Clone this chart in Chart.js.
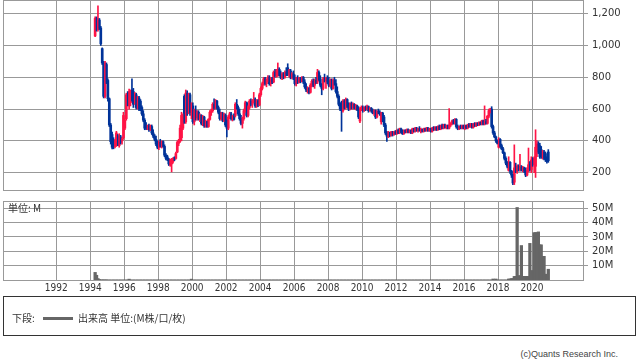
<!DOCTYPE html>
<html>
<head>
<meta charset="utf-8">
<script src="https://cdn.jsdelivr.net/npm/chart.js@4.4.0/dist/chart.umd.min.js"></script>
<style>
  body { margin: 0; background: #fff; width: 638px; height: 362px; position: relative; overflow: hidden;
         font-family: "Noto Sans CJK JP", "DejaVu Sans", sans-serif; color: #333; }
  canvas { position: absolute; left: 0; }
  #price { top: 0; }
  #volume { top: 194px; }
  #unit { position: absolute; left: 8px; top: 202px; font-size: 10px; line-height: 12px; }
  #legend { position: absolute; left: 3px; top: 296px; width: 631px; height: 38px; border: 1px solid #333; font-size: 10px; }
  #legend span { position: absolute; top: 15px; line-height: 12px; }
  #legend .swatch { left: 39px; top: 20px; width: 30px; height: 3px; background: #666; }
  #copy { position: absolute; right: 20px; top: 349px; font-size: 9px; font-family: "Liberation Sans", sans-serif; color: #444; }
</style>
</head>
<body>
<canvas id="price" width="638" height="192"></canvas>
<canvas id="volume" width="638" height="104"></canvas>
<div id="unit">単位: M</div>
<div id="legend">
  <span style="left:8px">下段:</span>
  <span class="swatch"></span>
  <span style="left:74px">出来高 単位:(M株/口/枚)</span>
</div>
<div id="copy">(c)Quants Research Inc.</div>

<script>
// monthly candles, first one is April 1994
const firstYear = 1994;
const firstMonth = 4;

const opens = [
  1060,1170,1100,1160,1110,980,890,680,880,
  780,665,500,440,400,365,375,430,370,425,400,420,
  480,540,690,620,640,720,710,640,690,610,670,650,
  610,570,530,490,480,495,470,490,450,430,410,380,
  360,390,370,395,365,310,300,285,250,255,270,295,
  290,330,385,400,420,480,680,520,700,580,690,580,
  620,520,590,545,580,540,560,510,550,495,520,490,
  535,580,590,630,610,650,610,580,540,570,530,560,
  520,480,550,570,540,555,560,630,610,570,540,510,
  540,590,640,560,610,650,630,650,660,620,650,625,
  690,730,760,790,760,780,800,760,790,770,830,810,
  810,850,820,800,820,800,830,860,820,840,800,820,
  800,760,790,770,795,775,800,770,740,720,730,705,
  750,775,750,780,770,830,790,750,730,790,780,795,
  770,750,780,730,780,760,710,680,630,640,590,650,
  610,660,620,600,635,610,630,605,620,595,525,600,
  610,590,610,600,615,590,605,590,575,590,550,585,
  580,520,575,550,500,450,430,450,435,455,440,455,
  445,465,450,475,455,445,465,455,470,455,465,450,
  475,460,480,465,475,465,470,460,475,465,480,465,
  475,460,480,470,485,470,490,475,495,480,500,485,
  495,480,500,510,525,510,535,490,480,490,480,495,
  480,495,480,500,490,505,485,505,495,510,500,515,
  505,525,505,520,510,555,585,600,490,450,425,400,
  360,410,370,350,325,290,260,215,265,210,185,140,
  230,210,240,220,235,215,230,210,185,215,250,220,
  280,250,240,360,380,370,345,300,330,320,285,330
];
const highs = [
  1180,1180,1250,1170,1120,985,900,900,890,
  790,670,510,455,420,410,460,440,445,435,420,580,
  540,700,710,725,720,790,730,705,700,680,680,660,
  620,590,540,515,500,505,500,500,470,440,430,400,
  400,410,400,400,375,320,310,290,285,290,295,300,
  330,400,410,500,580,570,690,720,715,700,700,640,
  640,600,620,590,590,570,565,560,555,530,525,540,
  590,600,640,665,660,655,620,600,580,580,575,570,
  530,560,580,580,560,570,640,660,620,600,560,550,
  600,650,645,620,660,665,660,705,670,660,660,700,
  740,770,800,800,790,810,810,800,800,840,850,850,
  890,860,840,830,830,840,860,885,850,850,830,840,
  815,800,810,800,800,805,805,785,760,740,735,760,
  785,790,790,800,850,840,810,760,800,820,800,810,
  800,790,790,790,800,785,740,690,640,650,660,660,
  670,665,640,640,645,640,635,630,625,615,610,620,
  620,615,620,625,620,610,610,600,595,595,590,600,
  590,580,580,560,510,460,460,455,460,460,460,465,
  470,475,480,480,470,470,470,475,475,470,470,480,
  480,485,485,480,490,480,475,480,480,485,485,480,
  480,485,490,490,490,495,500,500,505,505,505,500,
  500,603,515,530,535,540,540,500,495,500,500,500,
  500,500,505,510,510,510,510,515,515,515,520,520,
  530,530,620,535,560,600,605,615,500,460,430,405,
  420,415,380,360,330,300,270,300,270,215,190,375,
  260,250,250,315,245,240,235,230,230,355,270,300,
  295,300,470,400,395,385,365,340,340,330,300,345
];
const lows = [
  1055,1090,1090,1100,1000,880,670,670,760,
  650,490,380,350,350,355,365,370,360,380,380,410,
  470,530,620,600,620,650,610,630,600,600,590,590,
  560,520,470,470,470,460,465,440,420,400,370,350,
  345,360,355,360,300,280,275,245,240,205,260,275,
  285,325,370,390,400,470,510,510,560,570,560,540,
  510,500,530,530,530,520,500,495,485,485,485,485,
  530,560,580,600,600,600,570,530,530,520,520,490,
  425,470,540,530,525,530,550,600,560,530,500,480,
  530,580,550,550,600,620,610,640,610,610,615,620,
  680,720,750,750,740,770,750,745,760,765,800,800,
  805,810,790,785,790,795,810,810,800,790,790,785,
  750,745,760,765,765,770,760,730,710,700,695,700,
  740,740,730,760,760,780,740,690,720,770,730,760,
  740,740,720,725,750,700,670,620,590,460,580,600,
  600,610,590,595,600,600,600,595,590,540,515,590,
  580,585,590,595,580,585,580,570,560,540,545,570,
  560,505,520,490,440,397,420,425,430,430,435,440,
  440,445,445,450,440,440,450,450,450,450,445,445,
  455,455,460,455,460,450,455,455,460,460,460,460,
  455,455,465,465,465,465,470,470,475,475,480,475,
  475,475,490,500,505,505,480,470,470,475,475,475,
  470,475,475,485,485,480,480,490,490,495,495,500,
  500,500,500,505,505,545,575,480,440,420,390,380,
  355,360,345,320,280,250,230,210,195,170,125,125,
  200,195,210,210,210,205,200,175,180,205,210,200,
  240,200,170,300,320,290,290,285,280,270,260,265
];
const closes = [
  1170,1100,1160,1110,1010,890,680,890,770,
  665,500,395,360,370,400,450,380,430,390,410,560,
  530,690,640,710,700,660,630,695,610,670,600,600,
  570,530,480,480,495,470,490,450,430,410,380,360,
  390,370,395,365,310,290,285,255,275,280,290,285,
  320,390,400,480,560,550,520,700,580,690,580,620,
  520,590,545,580,540,560,510,550,495,520,490,535,
  580,590,630,610,650,610,580,540,570,530,560,500,
  480,550,570,540,555,535,630,610,570,540,510,540,
  590,640,560,610,650,630,650,660,620,650,625,690,
  730,760,790,760,780,800,760,790,770,830,810,845,
  850,820,800,820,800,830,820,820,840,800,820,800,
  760,790,770,795,775,800,770,740,720,730,705,750,
  775,750,780,770,830,790,750,730,790,780,795,770,
  750,780,730,780,760,710,680,630,600,590,650,610,
  660,620,600,635,610,630,605,620,595,550,600,610,
  590,610,600,615,590,605,590,575,590,550,585,580,
  570,575,530,500,450,430,450,435,455,440,455,445,
  465,450,475,455,445,465,455,470,455,465,450,475,
  460,480,465,475,465,470,460,475,465,480,465,475,
  460,480,470,485,470,490,475,495,480,500,485,495,
  480,500,510,525,510,535,490,480,490,480,495,480,
  495,480,500,490,505,485,505,495,510,500,515,505,
  525,505,520,510,555,590,600,490,450,425,400,385,
  410,370,350,325,290,260,240,265,210,185,135,230,
  210,240,220,235,215,230,210,185,215,250,220,280,
  250,290,360,380,330,300,300,330,290,285,270,275
];
// monthly volume, millions
const volumes = [
  5.3,3.3,1.0,0.3,0.1,0.1,0.1,0.1,0.1,
  0,0,0,0,0,0,0,0,0,0,0,0,
  0,0,0,0.6,0,0,0,0,0,0,0,0,
  0,0,0,0,0,0,0,0,0,0,0,0,
  0,0,0,0,0,0,0,0,0,0,0,0,
  0,0,0,0,0,0,0,0,0,0,0,0.6,
  0,0,0,0,0,0,0,0,0,0,0,0,
  0,0,0,0,0,0,0,0,0,0,0,0,
  0,0,0,0,0,0,0,0,0,0,0,0,
  0,0,0,0,0,0,0,0,0,0,0,0,
  0,0,0,0,0,0,0,0,0,0,0,0,
  0,0,0,0,0,0,0,0,0,0,0,0,
  0,0,0,0,0,0,0,0,0,0,0,0,
  0,0,0,0,0,0,0,0,0,0,0,0,
  0,0,0,0,0,0,0,0,0,0,0,0,
  0,0,0,0,0,0,0,0,0,0,0,0,
  0,0,0,0,0,0,0,0,0,0,0,0,
  0,0,0,0,0,0,0,0,0,0,0,0,
  0,0,0,0,0,0,0,0,0,0,0,0,
  0,0,0,0,0,0,0,0,0,0,0,0,
  0,0,0,0,0,0,0,0,0,0,0,0,
  0,0,0,0,0,0,0,0,0,0,0,0,
  0,0,0,0,0,0,0,0,0,0,0,0,
  0,0,0,0,0,0,0,0,0.7,0,0.7,0,
  0,0,0,0,0,0,0,0.7,0.7,1.0,1.0,2.5,
  2.5,50.5,3,3,24,2.5,2.5,2.5,2.5,2.5,25.5,6.5,
  6.5,33,33,33,33.5,24.5,24.5,16.5,16.5,4,4,7.5
];

const yearTicks = [1992,1994,1996,1998,2000,2002,2004,2006,2008,2010,2012,2014,2016,2018,2020];
const yearLabels = ['1992','1994','1996','1998','2000','2002','2004','2006','2008','2010','2012','2014','2016','2018','2020'];
const priceTicks = [200,400,600,800,1000,1200];
const priceLabels = ['200','400','600','800','1,000','1,200'];
const volumeTicks = [10,20,30,40,50];
const volumeLabels = ['10M','20M','30M','40M','50M'];

const RED = '#ff1446';
const BLUE = '#003399';
const GRID = '#999999';
const TEXT = '#333333';
const X_MIN = 1988.87;
const X_MAX = 2023.0;

const monthX = opens.map((_, i) => firstYear + (firstMonth - 1 + i + 0.5) / 12);
const candleColors = opens.map((o, i) => (closes[i] >= o ? RED : BLUE));

// outline round the plot area
const frame = {
  id: 'frame',
  afterDraw(chart) {
    const { ctx, chartArea: a } = chart;
    const l = Math.round(a.left), t = Math.round(a.top);
    const r = Math.round(a.right), b = Math.round(a.bottom);
    ctx.save();
    ctx.strokeStyle = GRID;
    ctx.lineWidth = 1;
    ctx.strokeRect(l + 0.5, t + 0.5, r - l, b - t);
    ctx.restore();
  }
};

// labels must not push the plot area in
function noPadding(s) {
  s.paddingTop = 0;
  s.paddingBottom = 0;
  s.paddingLeft = 0;
  s.paddingRight = 0;
}

function xScale(showLabels) {
  return {
    type: 'linear',
    min: X_MIN,
    max: X_MAX,
    offset: false,
    grid: { color: GRID, offset: false, drawTicks: false },
    border: { display: false },
    ticks: {
      display: showLabels,
      autoSkip: false,
      maxRotation: 0,
      padding: 2,
      color: TEXT,
      font: { family: 'DejaVu Sans Condensed, DejaVu Sans', size: 10 },
      callback: (v) => yearLabels[yearTicks.indexOf(v)]
    },
    afterBuildTicks: (s) => { s.ticks = yearTicks.map((v) => ({ value: v })); },
    afterFit: (s) => { s.height = showLabels ? 16 : 0; noPadding(s); }
  };
}

function yScale(min, max, ticks, labels) {
  return {
    position: 'right',
    min: min,
    max: max,
    stacked: false,
    grid: { color: GRID, tickLength: 5 },
    border: { display: false },
    ticks: {
      color: TEXT,
      padding: 4,
      font: { family: 'DejaVu Sans', size: 10 },
      callback: (v) => labels[ticks.indexOf(v)]
    },
    afterBuildTicks: (s) => { s.ticks = ticks.map((v) => ({ value: v })); },
    afterFit: (s) => { s.width = 55; noPadding(s); }
  };
}

const common = {
  responsive: false,
  animation: false,
  events: [],
  plugins: { legend: { display: false }, tooltip: { enabled: false } }
};

new Chart(document.getElementById('price'), {
  type: 'bar',
  data: {
    datasets: [
      {
        data: monthX.map((x, i) => ({ x: x, y: [lows[i], highs[i]] })),
        backgroundColor: candleColors,
        barThickness: 1,
        stack: 'candle'
      },
      {
        data: monthX.map((x, i) => ({ x: x, y: [opens[i], closes[i]] })),
        backgroundColor: candleColors,
        barThickness: 2,
        minBarLength: 1,
        stack: 'candle'
      }
    ]
  },
  options: {
    ...common,
    layout: { padding: { left: 3, top: 0, right: 0, bottom: 2 } },
    scales: { x: xScale(false), y: yScale(91, 1286, priceTicks, priceLabels) }
  },
  plugins: [frame]
});

new Chart(document.getElementById('volume'), {
  type: 'bar',
  data: {
    datasets: [{
      data: monthX.map((x, i) => ({ x: x, y: volumes[i] })),
      backgroundColor: '#666666',
      barThickness: 2.6
    }]
  },
  options: {
    ...common,
    layout: { padding: { left: 3, top: 7, right: 0, bottom: 2 } },
    scales: { x: xScale(true), y: yScale(0, 55, volumeTicks, volumeLabels) }
  },
  plugins: [frame]
});
</script>
</body>
</html>
